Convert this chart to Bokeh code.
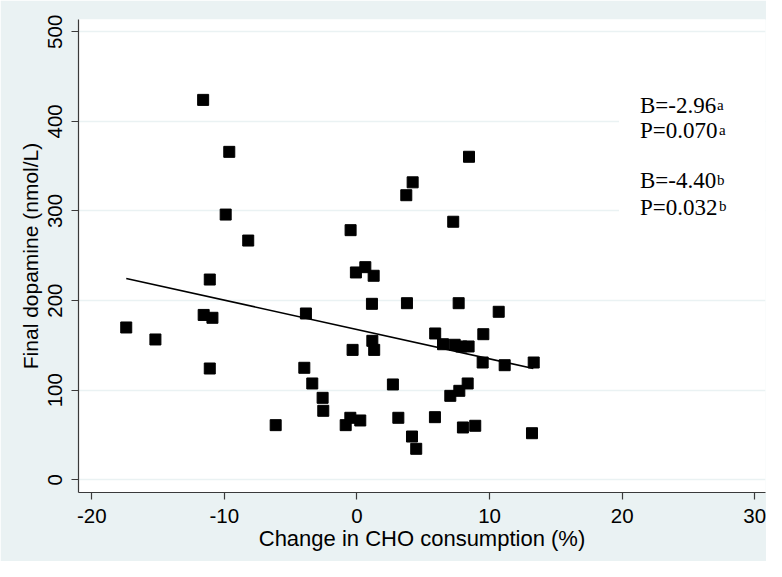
from bokeh.plotting import figure
from bokeh.models import FixedTicker, BoxAnnotation, Label, Range1d
from bokeh.embed import file_html
from bokeh.resources import INLINE

# ---- data ----
change_cho = [-17.4, -15.2, -11.6, -11.56, -11.1, -11.1, -10.9, -9.9, -9.63, -8.2,
              -6.13, -3.97, -3.85, -3.37, -2.59, -2.54, -0.85, -0.5, -0.48, -0.33,
              -0.08, 0.25, 0.63, 1.13, 1.16, 1.26, 1.3, 2.71, 3.12, 3.72,
              3.77, 4.15, 4.2, 4.47, 5.88, 5.9, 6.49, 7.04, 7.26, 7.37,
              7.67, 7.72, 7.87, 7.99, 8.35, 8.42, 8.45, 8.92, 9.48, 9.53,
              10.69, 11.14, 13.2, 13.33]
dopamine = [170, 156.6, 424, 184, 223.5, 124.2, 180.8, 296, 366, 267,
            61, 125, 185.6, 107.5, 91.5, 77, 61, 69.2, 278.6, 145,
            231.4, 66.2, 237.3, 196.4, 155.1, 227.7, 145, 106.4, 69.2, 317.6,
            197.1, 48.3, 332, 34.6, 69.9, 163.3, 151.3, 93.7, 288, 150.7,
            197.1, 99.3, 148.8, 58.4, 107.5, 148.8, 360.5, 60.3, 130.9, 162.5,
            187.5, 127.9, 52, 130.9]
fit_x = [-17.4, 13.3]
fit_y = [224.7, 124.2]
x_ticks = [-20, -10, 0, 10, 20, 30]
x_tick_labels = ["-20", "-10", "0", "10", "20", "30"]
y_ticks = [0, 100, 200, 300, 400, 500]
y_tick_labels = ["0", "100", "200", "300", "400", "500"]
stat_texts = ["B=-2.96", "P=0.070", "B=-4.40", "P=0.032"]
stat_marks = ["a", "a", "b", "b"]
stat_y = [417.7, 389.4, 333.7, 303.9]

BG = "#eaf2f3"
AXC = "#3a3a3a"

p = figure(width=766, height=561, output_backend="svg", toolbar_location=None,
           x_range=Range1d(-21.0, 30.81), y_range=Range1d(-14.17, 513.7),
           min_border_left=78, min_border_right=1, min_border_top=19, min_border_bottom=69,
           background_fill_color="white", border_fill_color=BG)
p.outline_line_color = None

# grid
p.xgrid.grid_line_color = None
p.ygrid.grid_line_color = BG
p.ygrid.grid_line_width = 1.5
p.ygrid.ticker = FixedTicker(ticks=y_ticks)

for ax in (p.xaxis, p.yaxis):
    ax.axis_line_color = AXC
    ax.axis_line_width = 1.2
    ax.major_tick_line_color = AXC
    ax.major_tick_line_width = 1.2
    ax.major_tick_out = 7
    ax.major_tick_in = 0
    ax.minor_tick_line_color = None
    ax.major_label_text_font = "Liberation Sans"
    ax.major_label_text_font_size = "20.5px"
    ax.major_label_text_color = "black"
    ax.axis_label_text_font = "Liberation Sans"
    ax.axis_label_text_font_style = "normal"
    ax.axis_label_text_color = "black"

p.xaxis.ticker = FixedTicker(ticks=x_ticks)
p.yaxis.ticker = FixedTicker(ticks=y_ticks)
p.xaxis.major_label_overrides = {t: s for t, s in zip(x_ticks, x_tick_labels)}
p.yaxis.major_label_overrides = {t: s for t, s in zip(y_ticks, y_tick_labels)}
p.yaxis.major_label_orientation = "vertical"
p.xaxis.axis_label = "Change in CHO consumption (%)"
p.yaxis.axis_label = "Final dopamine (nmol/L)"
p.xaxis.axis_label_text_font_size = "22px"
p.yaxis.axis_label_text_font_size = "21px"
p.xaxis.major_label_standoff = 9
p.xaxis.axis_label_standoff = 0
p.yaxis.major_label_standoff = 9
p.yaxis.axis_label_standoff = 4

p.scatter(change_cho, dopamine, marker="square", size=11,
          fill_color="black", line_color="black")
p.line(fit_x, fit_y, line_color="black", line_width=1.6)

# white annotation panel on the right
p.add_layout(BoxAnnotation(left=19.76, bottom=281.6, top=455.7,
                           fill_color="white", fill_alpha=1.0, line_color=None))

for txt, mark, yy in zip(stat_texts, stat_marks, stat_y):
    p.add_layout(Label(x=21.34, y=yy, text=txt, text_font="Liberation Serif",
                       text_font_size="23px", text_color="black",
                       text_baseline="alphabetic"))
    off = 77 if txt.startswith("B") else 79
    p.add_layout(Label(x=21.34, y=yy, x_offset=off, y_offset=1, text=mark,
                       text_font="Liberation Serif", text_font_size="15px",
                       text_color="black", text_baseline="alphabetic"))

open("out.html", "w").write(file_html(p, INLINE))
